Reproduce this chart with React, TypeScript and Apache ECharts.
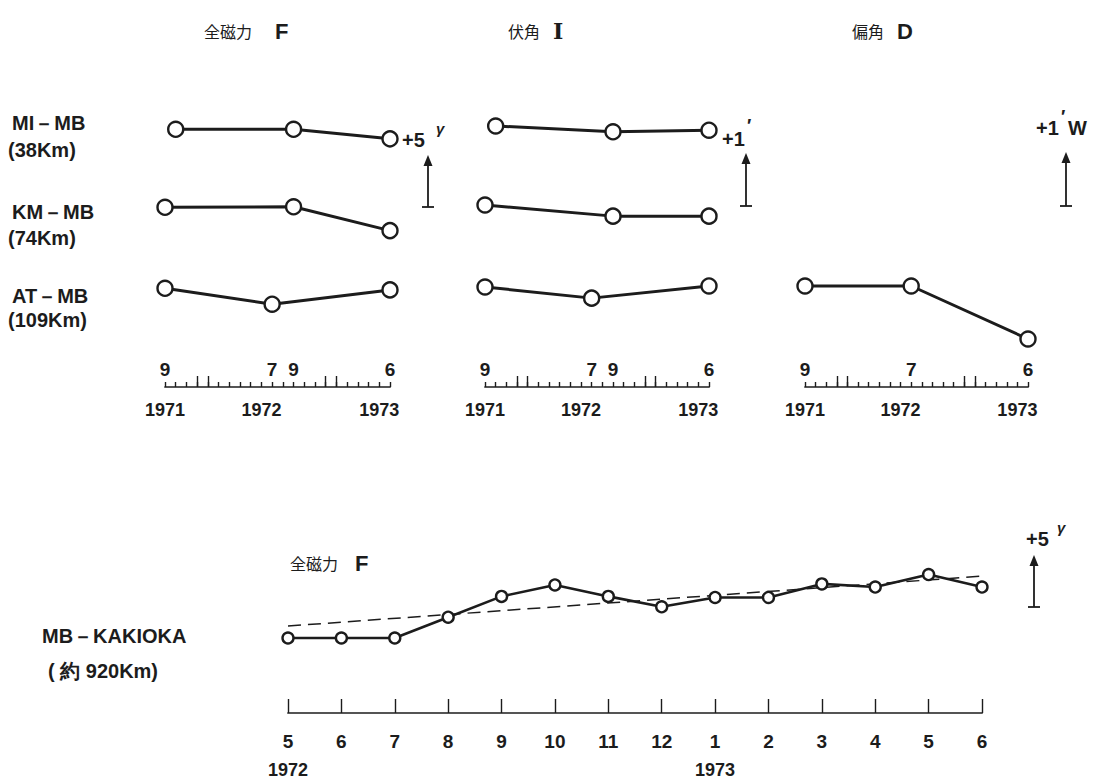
import React, { useEffect, useRef } from "react";
import * as echarts from "echarts";

// ---------- DATA ----------
// Top panels: monthly axis from Sep 1971 to Jun 1973 (index 0..21)
const TOP_MONTHS = ["9", "10", "11", "12", "1", "2", "3", "4", "5", "6", "7", "8", "9", "10", "11", "12", "1", "2", "3", "4", "5", "6"];
const TOP_LABEL_IDX_FI = [0, 10, 12, 21];
const TOP_LABEL_IDX_D = [0, 10, 21];
const TOP_LONG_TICK_IDX = [3, 4, 15, 16];
const TOP_YEAR_IDX = [0, 9, 20];
const TOP_YEARS = ["1971", "1972", "1973"];

// 全磁力 F (gamma, relative to first observation)
const F_MI_X = [1, 12, 21];
const F_MI = [0, 0, -0.9];
const F_KM_X = [0, 12, 21];
const F_KM = [0, 0.05, -2.2];
const F_AT_X = [0, 10, 21];
const F_AT = [0, -1.5, -0.15];

// 伏角 I (minutes)
const I_MI_X = [1, 12, 21];
const I_MI = [0, -0.11, -0.08];
const I_KM_X = [0, 12, 21];
const I_KM = [0, -0.21, -0.21];
const I_AT_X = [0, 10, 21];
const I_AT = [0, -0.21, 0.02];

// 偏角 D (minutes)
const D_AT_X = [0, 10, 21];
const D_AT = [0, 0, -1.0];

// Bottom: MB - KAKIOKA, May 1972 .. Jun 1973
const BOTTOM_MONTHS = ["5", "6", "7", "8", "9", "10", "11", "12", "1", "2", "3", "4", "5", "6"];
const BOTTOM_YEAR_IDX = [0, 8];
const BOTTOM_YEARS = ["1972", "1973"];
const KAKIOKA_F = [0, 0, 0, 2.0, 4.0, 5.1, 4.0, 3.0, 3.9, 3.9, 5.2, 4.9, 6.1, 4.9];
const KAKIOKA_TREND_X = [0, 13];
const KAKIOKA_TREND = [1.15, 5.95];

// ---------- STYLE / LAYOUT ----------
const INK = "#1c1c1c";
const LATIN = "'Liberation Sans', Arial, sans-serif";
const CJK = "'Noto Sans CJK JP', sans-serif";

function buildOption() {
  const grid: any[] = [];
  const xAxis: any[] = [];
  const yAxis: any[] = [];
  const series: any[] = [];

  const addRow = (left: number, width: number, xmax: number, baseY: number, pxPerUnit: number,
                  rows: { x: number[]; y: number[] }[], sym: number, lw: number, extra?: any[]) => {
    const above = 90, below = 70;
    const gi = grid.length;
    grid.push({ left, width, top: baseY - above, height: above + below });
    xAxis.push({ type: "value", gridIndex: gi, min: 0, max: xmax, show: false, splitLine: { show: false } });
    yAxis.push({ type: "value", gridIndex: gi, min: -below / pxPerUnit, max: above / pxPerUnit, show: false, splitLine: { show: false } });
    const ai = xAxis.length - 1;
    (extra || []).forEach((s) => series.push({ ...s, xAxisIndex: ai, yAxisIndex: ai }));
    rows.forEach((r) => {
      series.push({
        type: "line",
        xAxisIndex: ai,
        yAxisIndex: ai,
        data: r.x.map((x, i) => [x, r.y[i]]),
        symbol: "circle",
        symbolSize: sym,
        showSymbol: true,
        clip: false,
        itemStyle: { color: "#fff", borderColor: INK, borderWidth: 2.4 },
        lineStyle: { color: INK, width: lw },
        z: 3,
      });
    });
  };

  const addTickAxis = (left: number, width: number, axisY: number, months: string[],
                       labelIdx: number[], longIdx: number[], yearIdx: number[], years: string[],
                       shortLen: number, longLen: number, labelAbove: boolean,
                       labelSize: number, yearMargin: number, labelMargin: number) => {
    const gi = grid.length;
    grid.push({ left, width, top: axisY - 40, height: 40 });
    yAxis.push({ type: "value", gridIndex: gi, min: 0, max: 1, show: false, splitLine: { show: false } });
    yAxis.push({ type: "value", gridIndex: gi, min: 0, max: 1, show: false, splitLine: { show: false } });
    xAxis.push({
      type: "category", gridIndex: gi, position: "bottom", data: months, boundaryGap: false,
      axisLine: { show: true, lineStyle: { color: INK, width: 1.7 } },
      axisTick: { show: true, inside: true, length: shortLen, interval: 0, lineStyle: { color: INK, width: 1.4 } },
      axisLabel: {
        show: true, inside: labelAbove, margin: labelMargin,
        interval: (i: number) => labelIdx.indexOf(i) >= 0,
        color: INK, fontSize: labelSize, fontFamily: LATIN, fontWeight: "bold",
      },
      splitLine: { show: false },
    });
    xAxis.push({
      type: "category", gridIndex: gi, position: "bottom", data: months, boundaryGap: false,
      axisLine: { show: false },
      axisTick: { show: longIdx.length > 0, inside: true, length: longLen, interval: (i: number) => longIdx.indexOf(i) >= 0, lineStyle: { color: INK, width: 1.4 } },
      axisLabel: {
        show: true, margin: yearMargin,
        interval: (i: number) => yearIdx.indexOf(i) >= 0,
        formatter: (_v: string, i: number) => { const k = yearIdx.indexOf(i); return k >= 0 ? years[k] : ""; },
        color: INK, fontSize: 18, fontFamily: LATIN, fontWeight: "bold",
      },
      splitLine: { show: false },
    });
  };

  // ---- F panel ----
  const FX = 165, FW = 225, FS = 10.6;
  addRow(FX, FW, 21, 129.3, FS, [{ x: F_MI_X, y: F_MI }], 15, 3);
  addRow(FX, FW, 21, 207.3, FS, [{ x: F_KM_X, y: F_KM }], 15, 3);
  addRow(FX, FW, 21, 288.3, FS, [{ x: F_AT_X, y: F_AT }], 15, 3);
  addTickAxis(FX, FW, 387, TOP_MONTHS, TOP_LABEL_IDX_FI, TOP_LONG_TICK_IDX, TOP_YEAR_IDX, TOP_YEARS, 5, 11, true, 19, 14, 8);

  // ---- I panel ----
  const IX = 485, IW = 224, IS = 53;
  addRow(IX, IW, 21, 126, IS, [{ x: I_MI_X, y: I_MI }], 15, 3);
  addRow(IX, IW, 21, 205, IS, [{ x: I_KM_X, y: I_KM }], 15, 3);
  addRow(IX, IW, 21, 287, IS, [{ x: I_AT_X, y: I_AT }], 15, 3);
  addTickAxis(IX, IW, 387, TOP_MONTHS, TOP_LABEL_IDX_FI, TOP_LONG_TICK_IDX, TOP_YEAR_IDX, TOP_YEARS, 5, 11, true, 19, 14, 8);

  // ---- D panel ----
  const DX = 805, DW = 223, DS = 53;
  addRow(DX, DW, 21, 286, DS, [{ x: D_AT_X, y: D_AT }], 15, 3);
  addTickAxis(DX, DW, 387, TOP_MONTHS, TOP_LABEL_IDX_D, TOP_LONG_TICK_IDX, TOP_YEAR_IDX, TOP_YEARS, 5, 11, true, 19, 14, 8);

  // ---- Bottom panel ----
  const BX = 288, BW = 694, BS = 10.4;
  const trend = {
    type: "line",
    data: KAKIOKA_TREND_X.map((x, i) => [x, KAKIOKA_TREND[i]]),
    symbol: "none",
    lineStyle: { color: INK, width: 1.5, type: [13, 7] },
    z: 2,
  };
  addRow(BX, BW, 13, 638, BS, [{ x: BOTTOM_MONTHS.map((_, i) => i), y: KAKIOKA_F }], 11, 2.6, [trend]);
  addTickAxis(BX, BW, 713, BOTTOM_MONTHS, BOTTOM_MONTHS.map((_, i) => i), [], BOTTOM_YEAR_IDX, BOTTOM_YEARS, 14, 14, false, 19, 48, 19);

  // ---- graphics: labels, titles, scale arrows ----
  const txt = (text: string, x: number, y: number, size: number, opts: any = {}) => ({
    type: "text", x, y, silent: true,
    style: {
      text, fill: INK, fontSize: size, fontFamily: opts.family || LATIN, fontWeight: opts.weight || "bold",
      fontStyle: opts.style || "normal", textAlign: opts.align || "left", textVerticalAlign: "middle",
    },
  });
  const arrow = (x: number, base: number, tip: number) => [
    { type: "line", silent: true, shape: { x1: x, y1: base, x2: x, y2: tip + 8 }, style: { stroke: INK, lineWidth: 1.8 } },
    { type: "line", silent: true, shape: { x1: x - 6, y1: base, x2: x + 6, y2: base }, style: { stroke: INK, lineWidth: 1.8 } },
    { type: "polygon", silent: true, shape: { points: [[x - 4.5, tip + 11], [x + 4.5, tip + 11], [x, tip]] }, style: { fill: INK } },
  ];

  const graphic: any[] = [
    // titles
    txt("全磁力", 204, 31, 16, { family: CJK, weight: "normal" }),
    txt("F", 275, 31, 22),
    txt("伏角", 508, 31, 16, { family: CJK, weight: "normal" }),
    txt("I", 553, 31, 22, { family: "'DejaVu Serif', serif" }),
    txt("偏角", 852, 31, 16, { family: CJK, weight: "normal" }),
    txt("D", 897, 31, 22),
    txt("全磁力", 290, 563, 16, { family: CJK, weight: "normal" }),
    txt("F", 355, 563, 22),
    // row labels
    txt("MI－MB", 12, 123, 20),
    txt("(38Km)", 8, 150, 20),
    txt("KM－MB", 12, 212, 20),
    txt("(74Km)", 8, 238, 20),
    txt("AT－MB", 12, 296, 20),
    txt("(109Km)", 8, 320, 20),
    txt("MB－KAKIOKA", 42, 636, 20),
    txt("( 約 920Km)", 48, 671, 20),
    // scale labels
    txt("+5", 402, 140, 20),
    txt("γ", 436, 128, 15, { style: "italic" }),
    txt("+1", 722, 139, 20),
    txt("′", 747, 126, 18),
    txt("+1", 1036, 128, 20),
    txt("′", 1061, 117, 18),
    txt("W", 1068, 128, 20),
    txt("+5", 1026, 539, 20),
    txt("γ", 1057, 527, 15, { style: "italic" }),
    ...arrow(428, 207, 155),
    ...arrow(746, 206, 153),
    ...arrow(1066, 206, 152),
    ...arrow(1034, 607, 555),
  ];

  return {
    animation: false,
    backgroundColor: "#ffffff",
    grid, xAxis, yAxis, series, graphic,
  };
}

export default function App() {
  const ref = useRef<HTMLDivElement>(null);
  useEffect(() => {
    if (!ref.current) return;
    const chart = echarts.init(ref.current, undefined, { renderer: "svg" });
    chart.setOption(buildOption() as any);
    return () => chart.dispose();
  }, []);
  return (
    <div
      ref={ref}
      style={{ position: "fixed", left: 0, top: 0, width: 1104, height: 784, background: "#fff" }}
    />
  );
}
